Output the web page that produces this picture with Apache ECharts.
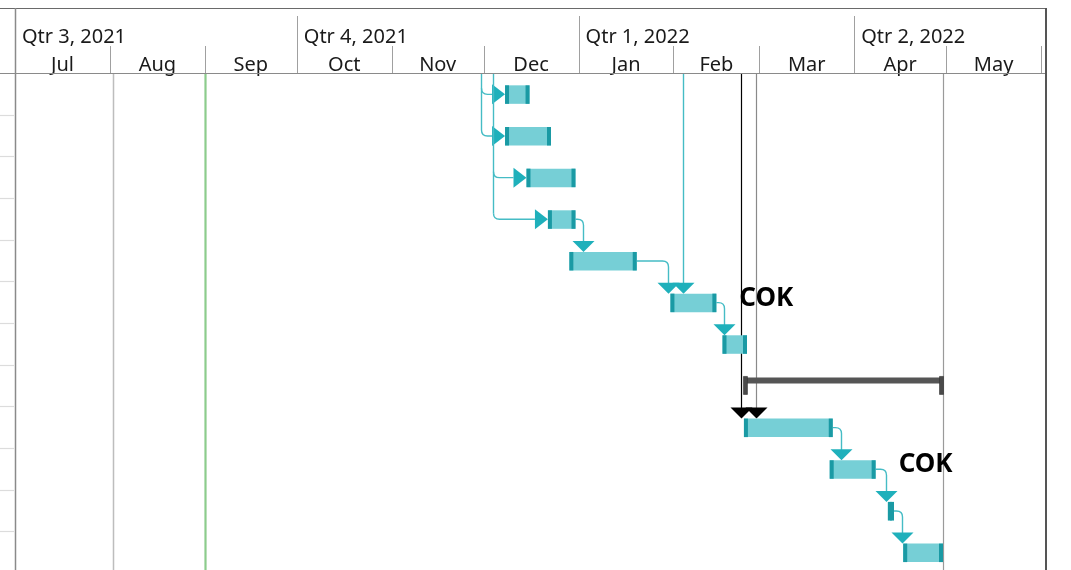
<!DOCTYPE html>
<html><head><meta charset="utf-8">
<script src="https://cdn.jsdelivr.net/npm/echarts@6/dist/echarts.min.js"></script>
<style>html,body{margin:0;padding:0;background:#fff}#c{width:1071px;height:570px}</style>
</head><body><div id="c"></div>
<script>
// ---------- data ----------
const months = ['Jul','Aug','Sep','Oct','Nov','Dec','Jan','Feb','Mar','Apr','May'];
const monthStarts = ['2021-07-01','2021-08-01','2021-09-01','2021-10-01','2021-11-01','2021-12-01',
  '2022-01-01','2022-02-01','2022-03-01','2022-04-01','2022-05-01','2022-06-01'];
const quarters = ['Qtr 3, 2021','Qtr 4, 2021','Qtr 1, 2022','Qtr 2, 2022'];
const quarterStarts = ['2021-07-01','2021-10-01','2022-01-01','2022-04-01'];

const taskRows  = [0,1,2,3,4,5,6,8,9,10,11];
const taskStart = ['2021-12-08','2021-12-08','2021-12-15','2021-12-22','2021-12-29','2022-01-31',
  '2022-02-17','2022-02-24','2022-03-24','2022-04-12','2022-04-17'];
const taskEnd   = ['2021-12-16','2021-12-23','2021-12-31','2021-12-31','2022-01-20','2022-02-15',
  '2022-02-25','2022-03-25','2022-04-08','2022-04-14','2022-04-30'];

const summaryRows  = [7];
const summaryStart = ['2022-02-24'];
const summaryEnd   = ['2022-04-30'];

// finish-to-start links between visible rows [fromRow, toRow]
const linkFrom = [3,4,5,8,9,10];
const linkTo   = [4,5,6,9,10,11];

// links coming from predecessors above the visible area
const extLinkDates = ['2021-11-30','2021-12-04','2022-02-04','2022-02-23','2022-02-28'];
const extLinkRows  = [[0,1],[2,3],[5],[8],[8]];
const extLinkKinds = ['side','side','down','downCritical','downCritical2'];

const markerDates = ['2021-08-02','2021-09-01','2022-04-30'];
const markerKinds = ['grid','status','finish'];

const labelRows = [5,9];
const labelText = ['COK','COK'];

const ROWS = 12;
// ---------- helpers ----------
function d(s){const p=s.split('-').map(Number);return Date.UTC(p[0],p[1]-1,p[2]);}
const X_MIN = Date.UTC(2021,6,1);
const X_MAX = Date.UTC(2022,5,2,15);
const Y_MAX = 11.93;
const FONT = '"Noto Sans","Open Sans",sans-serif';
const TEAL = '#1fb0bb', TEAL_LINE = '#45bcc5', BAR_FILL = '#76cfd6', BAR_CAP = '#1a9aa4';
const px = v => Math.round(v) + 0.5;

const taskByRow = {};
taskRows.forEach((r,i)=>{taskByRow[r]={s:d(taskStart[i]),e:d(taskEnd[i])};});

function rowY(api,row){return api.coord([X_MIN,row+0.5])[1]+0.5;}

const chart = echarts.init(document.getElementById('c'), null, {renderer:'canvas'});

const option = {
  animation:false,
  backgroundColor:'#fff',
  grid:{left:15,right:25,top:73,bottom:0,containLabel:false},
  xAxis:{type:'value',min:X_MIN,max:X_MAX,show:false,splitLine:{show:false}},
  yAxis:{type:'value',min:0,max:Y_MAX,inverse:true,show:false,splitLine:{show:false}},
  graphic:[
    {type:'line',shape:{x1:0,y1:8.5,x2:1046,y2:8.5},style:{stroke:'#6a6a6a',lineWidth:1.2},z:50},
    {type:'line',shape:{x1:0,y1:73.5,x2:1046,y2:73.5},style:{stroke:'#8a8a8a',lineWidth:1.2},z:50},
    {type:'line',shape:{x1:15.5,y1:8,x2:15.5,y2:570},style:{stroke:'#8a8a8a',lineWidth:1.5},z:50},
    {type:'line',shape:{x1:1046,y1:8,x2:1046,y2:570},style:{stroke:'#555',lineWidth:2},z:50}
  ],
  series:[
    // header: months
    {
      type:'custom',coordinateSystem:'cartesian2d',clip:false,silent:true,z:40,
      data:months.map((m,i)=>[d(monthStarts[i]),d(monthStarts[i+1]),0]),
      encode:{x:[0,1],y:2},
      renderItem(params,api){
        const x0=api.coord([api.value(0),0])[0];
        const x1=api.coord([api.value(1),0])[0];
        const top=api.coord([X_MIN,0])[1];
        const ch=[];
        if(params.dataIndex>0) ch.push({type:'line',shape:{x1:px(x0),y1:top-27,x2:px(x0),y2:top},style:{stroke:'#a0a0a0',lineWidth:1}});
        if(params.dataIndex===months.length-1) ch.push({type:'line',shape:{x1:px(x1),y1:top-27,x2:px(x1),y2:top},style:{stroke:'#a0a0a0',lineWidth:1}});
        ch.push({type:'text',style:{text:months[params.dataIndex],x:(x0+x1)/2,y:top-8,align:'center',verticalAlign:'middle',fill:'#1a1a1a',fontSize:20,fontFamily:FONT}});
        return {type:'group',children:ch};
      }
    },
    // header: quarters
    {
      type:'custom',coordinateSystem:'cartesian2d',clip:false,silent:true,z:40,
      data:quarters.map((q,i)=>[d(quarterStarts[i]),0]),
      encode:{x:0,y:1},
      renderItem(params,api){
        const x0=api.coord([api.value(0),0])[0];
        const top=api.coord([X_MIN,0])[1];
        const ch=[];
        if(params.dataIndex>0) ch.push({type:'line',shape:{x1:px(x0),y1:top-57,x2:px(x0),y2:top},style:{stroke:'#a0a0a0',lineWidth:1}});
        ch.push({type:'text',style:{text:quarters[params.dataIndex],x:x0+7,y:top-36,align:'left',verticalAlign:'middle',fill:'#1a1a1a',fontSize:20,fontFamily:FONT}});
        return {type:'group',children:ch};
      }
    },
    // left panel row separators
    {
      type:'custom',coordinateSystem:'cartesian2d',clip:false,silent:true,z:5,
      data:Array.from({length:ROWS-1},(_,i)=>[X_MIN,i+1]),
      encode:{x:0,y:1},
      renderItem(params,api){
        const y=api.coord([X_MIN,api.value(1)])[1];
        return {type:'line',shape:{x1:0,y1:px(y),x2:14,y2:px(y)},style:{stroke:'#dcdcdc',lineWidth:1.2}};
      }
    },
    // vertical marker lines
    {
      type:'custom',coordinateSystem:'cartesian2d',silent:true,z:6,
      data:markerDates.map(s=>[d(s),0]),
      encode:{x:0,y:1},
      renderItem(params,api){
        const x=api.coord([api.value(0),0])[0];
        const y0=api.coord([X_MIN,0])[1], y1=api.coord([X_MIN,Y_MAX])[1];
        const k=markerKinds[params.dataIndex];
        const st = k==='status'?{stroke:'#8ccc8c',lineWidth:2.2}: k==='grid'?{stroke:'#bdbdbd',lineWidth:1.5}:{stroke:'#9a9a9a',lineWidth:1.2};
        return {type:'line',shape:{x1:px(x),y1:y0,x2:px(x),y2:y1},style:st};
      }
    },
    // external links (from predecessors above)
    {
      type:'custom',coordinateSystem:'cartesian2d',silent:true,z:8,
      data:extLinkDates.map(s=>[d(s),0]),
      encode:{x:0,y:1},
      renderItem(params,api){
        const i=params.dataIndex;
        const x=px(api.coord([api.value(0),0])[0]);
        const top=api.coord([X_MIN,0])[1];
        const rows=extLinkRows[i], kind=extLinkKinds[i];
        const ch=[];
        if(kind==='side'){
          const r=6;
          const last=rows[rows.length-1];
          ch.push({type:'line',shape:{x1:x,y1:top,x2:x,y2:rowY(api,last)-r},style:{stroke:TEAL_LINE,lineWidth:1.4}});
          rows.forEach(row=>{
            const yc=rowY(api,row);
            const xs=api.coord([taskByRow[row].s,0])[0];
            ch.push({type:'path',shape:{pathData:`M${x} ${yc-r} Q${x} ${yc} ${x+r} ${yc} L${xs-13} ${yc}`},style:{stroke:TEAL_LINE,lineWidth:1.4,fill:null}});
            ch.push({type:'polygon',shape:{points:[[xs-13,yc-10],[xs-13,yc+10],[xs,yc]]},style:{fill:TEAL}});
          });
        } else {
          const row=rows[0];
          const bt=rowY(api,row)-9;
          const lineCol = kind==='down'?TEAL_LINE: kind==='downCritical'?'#000':'#8a8a8a';
          const arrCol = kind==='down'?TEAL:'#000';
          ch.push({type:'line',shape:{x1:x,y1:top,x2:x,y2:bt-10},style:{stroke:lineCol,lineWidth:kind==='down'?1.4:1.2}});
          ch.push({type:'polygon',shape:{points:[[x-11,bt-11],[x+11,bt-11],[x,bt]]},style:{fill:arrCol}});
        }
        return {type:'group',children:ch};
      }
    },
    // finish-to-start links
    {
      type:'custom',coordinateSystem:'cartesian2d',silent:true,z:8,
      data:linkFrom.map((f,i)=>[taskByRow[f].e,f,taskByRow[linkTo[i]].s,linkTo[i]]),
      encode:{x:[0,2],y:[1,3]},
      renderItem(params,api){
        const x0=api.coord([api.value(0),0])[0];
        const y0=rowY(api,api.value(1));
        const xs=api.coord([api.value(2),0])[0];
        const bt=rowY(api,api.value(3))-9;
        const xt=Math.round(Math.max(x0+8,xs-2))+0.5;
        const r=6;
        return {type:'group',children:[
          {type:'path',shape:{pathData:`M${x0} ${y0} L${xt-r} ${y0} Q${xt} ${y0} ${xt} ${y0+r} L${xt} ${bt-10}`},style:{stroke:TEAL_LINE,lineWidth:1.4,fill:null}},
          {type:'polygon',shape:{points:[[xt-11,bt-11],[xt+11,bt-11],[xt,bt]]},style:{fill:TEAL}}
        ]};
      }
    },
    // task bars
    {
      type:'custom',coordinateSystem:'cartesian2d',silent:true,z:10,
      data:taskRows.map((r,i)=>[d(taskStart[i]),d(taskEnd[i]),r]),
      encode:{x:[0,1],y:2},
      renderItem(params,api){
        const xs=api.coord([api.value(0),0])[0];
        const xe=api.coord([api.value(1),0])[0];
        const yc=rowY(api,api.value(2));
        const h=18.5, w=Math.max(xe-xs,6);
        return {type:'group',children:[
          {type:'rect',shape:{x:xs,y:yc-9,width:w,height:h},style:{fill:BAR_FILL}},
          {type:'rect',shape:{x:xs,y:yc-9,width:4,height:h},style:{fill:BAR_CAP}},
          {type:'rect',shape:{x:xs+w-4,y:yc-9,width:4,height:h},style:{fill:BAR_CAP}}
        ]};
      }
    },
    // summary bars
    {
      type:'custom',coordinateSystem:'cartesian2d',silent:true,z:10,
      data:summaryRows.map((r,i)=>[d(summaryStart[i]),d(summaryEnd[i]),r]),
      encode:{x:[0,1],y:2},
      renderItem(params,api){
        const xs=api.coord([api.value(0),0])[0];
        const xe=api.coord([api.value(1),0])[0];
        const yc=rowY(api,api.value(2));
        return {type:'group',children:[
          {type:'rect',shape:{x:xs,y:yc-8.5,width:xe-xs,height:6},style:{fill:'#555'}},
          {type:'rect',shape:{x:xs-0.5,y:yc-9.5,width:4,height:18},style:{fill:'#4a4a4a',stroke:'#333',lineWidth:0.6}},
          {type:'rect',shape:{x:xe-3.5,y:yc-9.5,width:4,height:18},style:{fill:'#4a4a4a',stroke:'#333',lineWidth:0.6}}
        ]};
      }
    },
    // labels
    {
      type:'custom',coordinateSystem:'cartesian2d',silent:true,z:12,
      data:labelRows.map(r=>[taskByRow[r].e,r]),
      encode:{x:0,y:1},
      renderItem(params,api){
        const xe=api.coord([api.value(0),0])[0];
        const yc=rowY(api,api.value(1));
        return {type:'text',style:{text:labelText[params.dataIndex],x:xe+23,y:yc-4.5,align:'left',verticalAlign:'middle',fill:'#000',fontSize:26,fontWeight:'bold',fontFamily:FONT}};
      }
    }
  ]
};
chart.setOption(option);
</script></body></html>
